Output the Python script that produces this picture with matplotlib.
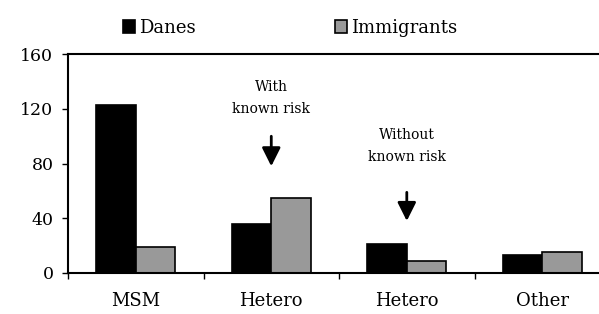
import matplotlib
matplotlib.use("Agg")
import matplotlib.pyplot as plt
import numpy as np

plt.rcParams['font.family'] = ['DejaVu Serif']

categories = ["MSM", "Hetero", "Hetero", "Other"]
danes = [123, 36, 21, 13]
immigrants = [19, 55, 9, 15]
series_names = ["Danes", "Immigrants"]
notes = ["With\nknown risk", "Without\nknown risk"]
note_cats = [1, 2]

fig = plt.figure(figsize=(5.99, 3.14), dpi=100)
ax = fig.add_axes([0.1135, 0.1306, 0.905, 0.697])

x = np.arange(len(categories))
w = 0.29
ax.bar(x - w / 2, danes, w, color="black", edgecolor="black", linewidth=1.2, label=series_names[0])
ax.bar(x + w / 2, immigrants, w, color="#999999", edgecolor="black", linewidth=1.2, label=series_names[1])

ax.set_xlim(-0.5, 3.5)
ax.set_ylim(0, 160)
ax.set_yticks([0, 40, 80, 120, 160])
ax.set_xticks(x)
ax.set_xticklabels(categories)
ax.set_xticks(np.arange(len(categories)) - 0.5, minor=True)
ax.tick_params(axis="x", which="major", length=0, pad=14, labelsize=13)
ax.tick_params(axis="x", which="minor", length=4, width=1, direction="out")
ax.tick_params(axis="y", length=4.5, width=1, direction="out", labelsize=12.5, pad=6)

for s in ax.spines.values():
    s.set_linewidth(1.5)

# arrows and notes
ax.annotate("", xy=(note_cats[0], 76), xytext=(note_cats[0], 102),
            arrowprops=dict(arrowstyle="-|>", color="black", lw=2, mutation_scale=28))
ax.text(note_cats[0], 128, notes[0], ha="center", va="center", fontsize=10, linespacing=1.75)
ax.annotate("", xy=(note_cats[1], 36), xytext=(note_cats[1], 61),
            arrowprops=dict(arrowstyle="-|>", color="black", lw=2, mutation_scale=28))
ax.text(note_cats[1], 93, notes[1], ha="center", va="center", fontsize=10, linespacing=1.75)

fig.legend(loc="center", bbox_to_anchor=(0.484, 0.912), ncol=2, frameon=False,
           fontsize=13, handlelength=0.7, handleheight=0.7, handletextpad=0.2,
           columnspacing=7.7)

fig.savefig("out.png", dpi=100)
